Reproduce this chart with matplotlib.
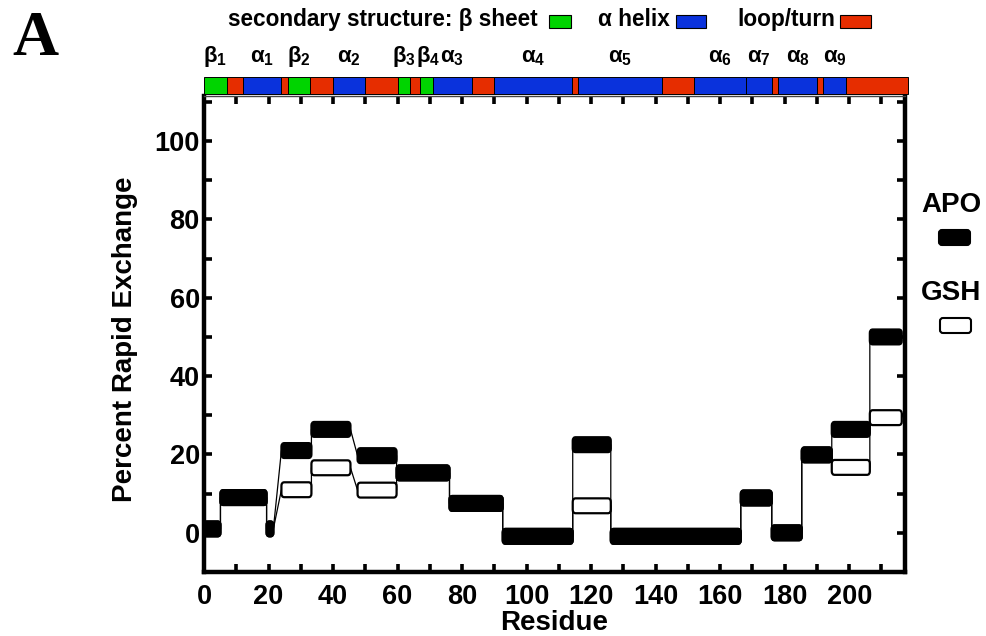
import matplotlib
matplotlib.use("Agg")
import matplotlib.pyplot as plt
from matplotlib.patches import FancyBboxPatch, Rectangle
from matplotlib.ticker import MultipleLocator

plt.rcParams['font.family'] = ['Liberation Sans', 'DejaVu Sans']
plt.rcParams['font.weight'] = 'bold'
plt.rcParams['mathtext.fontset'] = 'custom'
plt.rcParams['mathtext.rm'] = 'Liberation Sans:bold'
plt.rcParams['mathtext.bf'] = 'Liberation Sans:bold'
plt.rcParams['mathtext.it'] = 'Liberation Sans:bold'

# ---- data: peptide segments (residue ranges) and percent rapid exchange ----
seg_start = [0, 5.1, 19.4, 24, 33.3, 47.6, 59.7, 76.1, 92.6, 114.3, 126.1, 166.4, 176, 185.3, 194.6, 206.4]
seg_end = [5.1, 19.4, 21.5, 33.3, 45.4, 59.7, 76.1, 92.6, 114.3, 126.1, 166.4, 176, 185.3, 194.6, 206.4, 216.3]
apo = [1, 9, 1, 21, 26.4, 19.7, 15.3, 7.5, -0.9, 22.5, -0.9, 8.9, 0, 19.9, 26.4, 50]
gsh = [1, 9, 1, 11, 16.6, 10.9, 15.3, 7.5, -0.9, 6.9, -0.9, 8.9, 0, 19.9, 16.7, 29.4]

# ---- secondary structure ----
ss_start = [0, 7, 12, 24, 26, 33, 40, 50, 60, 64, 67, 71, 83, 90, 114, 116, 142, 152, 168, 176, 178, 190, 192, 199]
ss_end = [7, 12, 24, 26, 33, 40, 50, 60, 64, 67, 71, 83, 90, 114, 116, 142, 152, 168, 176, 178, 190, 192, 199, 218.3]
ss_type = ['b', 'l', 'h', 'l', 'b', 'l', 'h', 'l', 'b', 'l', 'b', 'h', 'l', 'h', 'l', 'h', 'l', 'h', 'h', 'l', 'h', 'l', 'h', 'l']
ss_labels = ['β_1', 'α_1', 'β_2', 'α_2', 'β_3', 'β_4', 'α_3', 'α_4', 'α_5', 'α_6', 'α_7', 'α_8', 'α_9']
ss_label_pos = [3.5, 18, 29.5, 45, 62, 69.5, 77, 102, 129, 160, 172, 184, 195.5]

ss_colors = {'b': '#00d400', 'h': '#0a32dc', 'l': '#e62d00'}

W, H = 986, 636
fig = plt.figure(figsize=(W / 100, H / 100), dpi=100)

ax_l, ax_r, ax_t, ax_b = 204, 905, 96, 572
ax = fig.add_axes([ax_l / W, 1 - ax_b / H, (ax_r - ax_l) / W, (ax_b - ax_t) / H])
ax.set_xlim(0, 217.3)
ax.set_ylim(-10, 111.5)

bar_h = 3.8

def draw_series(vals, face, z):
    xs, ys = [], []
    for s, e, v in zip(seg_start, seg_end, vals):
        xs += [s, e]
        ys += [v, v]
    ax.plot(xs, ys, color='black', lw=0.9, zorder=1)
    for s, e, v in zip(seg_start, seg_end, vals):
        p = FancyBboxPatch((s, v - bar_h / 2), e - s, bar_h,
                           boxstyle="round,pad=0,rounding_size=0.9",
                           facecolor=face, edgecolor='black', lw=1.6, zorder=z)
        ax.add_patch(p)

draw_series(gsh, 'white', 2)
draw_series(apo, 'black', 3)

# axes styling
for side in ['left', 'right', 'bottom']:
    ax.spines[side].set_linewidth(3.2)
ax.spines['top'].set_linewidth(1.0)
ax.spines['top'].set_color('#444444')

ax.xaxis.set_major_locator(MultipleLocator(20))
ax.xaxis.set_minor_locator(MultipleLocator(10))
ax.yaxis.set_major_locator(MultipleLocator(20))
ax.yaxis.set_minor_locator(MultipleLocator(10))
ax.set_yticks([0, 20, 40, 60, 80, 100])
ax.tick_params(which='both', direction='in', top=True, right=True, width=2.6)
ax.tick_params(which='major', length=6)
ax.tick_params(which='minor', length=6)
ax.tick_params(axis='x', labelsize=19.5, pad=9)
ax.tick_params(axis='y', labelsize=19.5, pad=3)
for lab in ax.get_xticklabels() + ax.get_yticklabels():
    lab.set_fontweight('bold')

ax.set_xlabel('Residue', fontsize=20, fontweight='bold')
ax.xaxis.set_label_coords(0.5, -0.108)
ax.xaxis.label.set_va('center')
ax.set_ylabel('Percent Rapid Exchange', fontsize=20, fontweight='bold')
ax.yaxis.set_label_coords(-0.112, 0.49)
ax.yaxis.label.set_va('center')

# secondary structure bar
ss_top, ss_bot = 77, 94
sax = fig.add_axes([ax_l / W, 1 - ss_bot / H, (ax_r - ax_l) / W, (ss_bot - ss_top) / H])
sax.set_xlim(0, 217.3)
sax.set_ylim(0, 1)
sax.axis('off')
for s, e, t in zip(ss_start, ss_end, ss_type):
    sax.add_patch(Rectangle((s, 0), e - s, 1, facecolor=ss_colors[t], edgecolor='black',
                            lw=0.7, clip_on=False))

# overlay in pixel coords
ov = fig.add_axes([0, 0, 1, 1], facecolor='none')
ov.set_xlim(0, W)
ov.set_ylim(H, 0)
ov.axis('off')

# SS labels
for lab, pos in zip(ss_labels, ss_label_pos):
    px = ax_l + pos * (ax_r - ax_l) / 217.3
    ov.text(px, 62, '$\\mathbf{' + lab.split('_')[0] + '}_{\\mathbf{' + lab.split('_')[1] + '}}$',
            ha='center', va='baseline', fontsize=16)

# header legend
hfs = 16.3
ov.text(228, 26, 'secondary structure: β sheet', ha='left', va='baseline', fontsize=hfs, fontweight='bold')
ov.add_patch(Rectangle((549, 15), 22, 13, facecolor=ss_colors['b'], edgecolor='black', lw=0.8))
ov.text(598, 26, 'α helix', ha='left', va='baseline', fontsize=hfs, fontweight='bold')
ov.add_patch(Rectangle((676, 15), 30, 13, facecolor=ss_colors['h'], edgecolor='black', lw=0.8))
ov.text(737, 26, 'loop/turn', ha='left', va='baseline', fontsize=hfs, fontweight='bold')
ov.add_patch(Rectangle((840, 15), 31, 13, facecolor=ss_colors['l'], edgecolor='black', lw=0.8))

# panel letter
ov.text(12, 55, 'A', family=['Liberation Serif', 'DejaVu Serif'], fontweight='bold', fontsize=46,
        ha='left', va='baseline')

# series legend
ov.text(951, 205, 'APO', ha='center', va='center', fontsize=20, fontweight='bold')
ov.add_patch(FancyBboxPatch((939, 230), 31, 15, boxstyle="round,pad=0,rounding_size=3",
                            facecolor='black', edgecolor='black', lw=1.5))
ov.text(951, 293, 'GSH', ha='center', va='center', fontsize=20, fontweight='bold')
ov.add_patch(FancyBboxPatch((940, 318), 31, 15, boxstyle="round,pad=0,rounding_size=3",
                            facecolor='white', edgecolor='black', lw=1.5))

fig.savefig('out.png', dpi=100)
